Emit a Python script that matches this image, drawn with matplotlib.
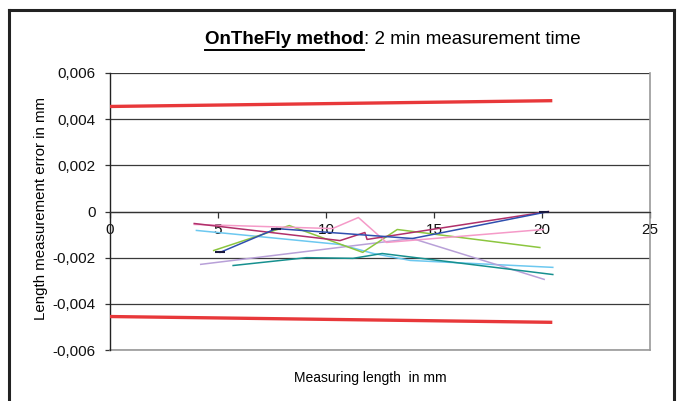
import matplotlib
matplotlib.use("Agg")
import matplotlib.pyplot as plt
from matplotlib.lines import Line2D

plt.rcParams['font.family'] = ['Liberation Sans', 'DejaVu Sans']

# ---- data ----
mpe_x = [0.0, 20.4]
mpe_upper = [0.00455, 0.00480]
mpe_lower = [-0.00455, -0.00480]

blue_x = [5.1, 7.7, 14.0, 20.1]
blue_y = [-0.00177, -0.00074, -0.00117, -0.00004]

green_x = [4.8, 8.3, 11.7, 13.3, 19.9]
green_y = [-0.00169, -0.00061, -0.00177, -0.00078, -0.00156]

pink_x = [3.9, 10.3, 11.5, 12.8, 20.05]
pink_y = [-0.00056, -0.00074, -0.00026, -0.00134, -0.00078]

crimson_x = [3.9, 10.65, 11.8, 11.9, 20.3]
crimson_y = [-0.00052, -0.00126, -0.00091, -0.00121, 0.0]

lightblue_x = [4.0, 8.8, 10.65, 12.2, 13.9, 20.5]
lightblue_y = [-0.00082, -0.00126, -0.00143, -0.00182, -0.00212, -0.00242]

lavender_x = [4.2, 14.0, 20.1]
lavender_y = [-0.00229, -0.00117, -0.00294]

teal_x = [5.7, 9.1, 11.25, 12.6, 20.5]
teal_y = [-0.00234, -0.00200, -0.00203, -0.00182, -0.00273]

x_ticks = [0, 5, 10, 15, 20, 25]
y_ticks = [-0.006, -0.004, -0.002, 0.0, 0.002, 0.004, 0.006]
y_tick_labels = ['-0,006', '-0,004', '-0,002', '0', '0,002', '0,004', '0,006']

W, H = 682, 401
fig = plt.figure(figsize=(W / 100, H / 100), dpi=100)
ax = fig.add_axes([110 / W, 1 - 350 / H, 540 / W, 277 / H])

# gridlines
for yv in y_ticks:
    ax.axhline(yv, color='#3a3a3a', lw=0.9, zorder=1)

series = [
    (lightblue_x, lightblue_y, '#6CC8F0'),
    (lavender_x, lavender_y, '#B8A0D8'),
    (teal_x, teal_y, '#16908F'),
    (green_x, green_y, '#8CC63F'),
    (pink_x, pink_y, '#F59AC8'),
    (crimson_x, crimson_y, '#B0306A'),
]
for xs, ys, c in series:
    ax.plot(xs, ys, color=c, lw=1.1, zorder=3)
ax.plot(blue_x, blue_y, color='#2F4FAF', lw=1.1, zorder=4)
ax.plot([blue_x[i] for i in (0, 1, 3)], [blue_y[i] for i in (0, 1, 3)],
        ls='none', marker='_', ms=7, mew=1.5, color='#1a1a40', zorder=5)

ax.plot(mpe_x, mpe_upper, color='#E8383A', lw=2.4, zorder=4)
ax.plot(mpe_x, mpe_lower, color='#E8383A', lw=2.4, zorder=4)

ax.set_xlim(0, 25)
ax.set_ylim(-0.006, 0.006)
ax.set_xticks(x_ticks)
ax.set_xticklabels([str(v) for v in x_ticks])
ax.set_yticks(y_ticks)
ax.set_yticklabels(y_tick_labels)

ax.spines['bottom'].set_position(('data', 0))
ax.spines['bottom'].set_color('#333333')
ax.spines['bottom'].set_linewidth(0.9)
ax.spines['left'].set_color('#222222')
ax.spines['left'].set_linewidth(1.0)
ax.spines['right'].set_color('#999999')
ax.spines['right'].set_linewidth(1.2)
ax.spines['top'].set_visible(False)
# gray bottom border of plot area
ax.plot([0, 25], [-0.006, -0.006], color='#999999', lw=1.2, clip_on=False, zorder=2)

ax.tick_params(axis='x', direction='out', length=4, width=0.9, color='#333333',
               labelsize=11, pad=4)
ax.tick_params(axis='y', direction='out', length=3.5, width=0.9, color='#333333',
               labelsize=11, pad=7)
for lab in ax.get_xticklabels() + ax.get_yticklabels():
    lab.set_color('#111111')

fig.text(41 / W, 1 - 209 / H, 'Length measurement error in mm', fontsize=10.8,
         rotation=90, ha='center', va='center')
fig.text(370 / W, 1 - 378 / H, 'Measuring length  in mm', fontsize=10,
         ha='center', va='center')

# title with bold underlined part
t1 = fig.text(205 / W, 1 - 40 / H, 'OnTheFly method', fontsize=13.5,
              fontweight='bold', ha='left', va='center')
fig.canvas.draw()
bb = t1.get_window_extent()
fig.text(bb.x1 / W, 1 - 40 / H, ': 2 min measurement time', fontsize=13.5,
         ha='left', va='center')
fig.add_artist(Line2D([bb.x0 / W, bb.x1 / W], [(bb.y0 - 1) / H, (bb.y0 - 1) / H],
                      color='black', lw=1.4))

# outer frame
fc = '#222222'
fig.add_artist(Line2D([9 / W, 9 / W], [0, 1 - 10 / H], color=fc, lw=2.2))
fig.add_artist(Line2D([674 / W, 674 / W], [0, 1 - 10 / H], color=fc, lw=2.2))
fig.add_artist(Line2D([9 / W, 674 / W], [1 - 10 / H, 1 - 10 / H], color=fc, lw=2.2))

fig.savefig('out.png', dpi=100)
